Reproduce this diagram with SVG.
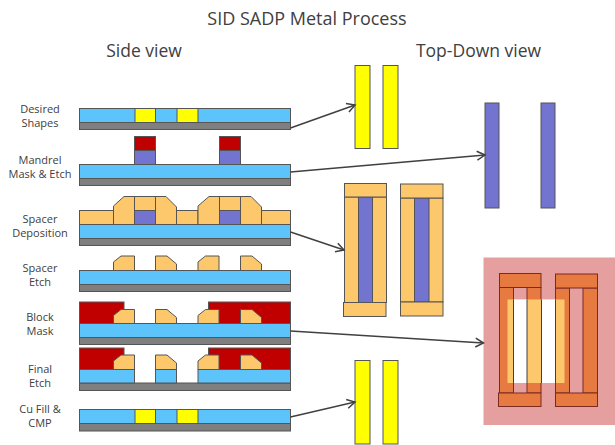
<svg xmlns="http://www.w3.org/2000/svg" width="615" height="445" viewBox="0 0 615 445">
<style>
text{font-family:"Open Sans","DejaVu Sans",sans-serif;fill:#404040;text-anchor:middle}
.t{font-size:18px}.h{font-size:17.5px}.l{font-size:11px}
.s{stroke:#555;stroke-width:1}
.b{fill:#5cc4fb}.g{fill:#7f7f7f}.y{fill:#ffff00}.r{fill:#c00000}.p{fill:#7373d0}.o{fill:#fdc76b}.d{fill:#e67a40;stroke:#7a2a20;stroke-width:1}
.c{fill:none;stroke:#404040;stroke-width:1.5;marker-end:url(#a)}
</style>
<defs>
<marker id="a" markerUnits="userSpaceOnUse" markerWidth="14" markerHeight="14" refX="11" refY="7" orient="auto"><path d="M3 2.5L11 7L3 11.5" fill="none" stroke="#404040" stroke-width="1.5"/></marker>
<polygon id="sl" points="113.5,14.5 113.5,6 121,0 134.5,0 134.5,14.5" class="o s"/>
<polygon id="sr" points="155.5,0 167,0 176.5,8 176.5,14.5 155.5,14.5" class="o s"/>
</defs>
<text class="t" x="307" y="25">SID SADP Metal Process</text>
<text class="h" x="144" y="57">Side view</text>
<text class="h" x="478.5" y="56.5">Top-Down view</text>
<g id="desired">
<text class="l" x="40" y="113">Desired</text><text class="l" x="40" y="127">Shapes</text>
<rect class="b s" x="79.5" y="108.5" width="211" height="14"/><rect class="g s" x="79.5" y="122.5" width="211" height="7"/>
<rect class="y s" x="135" y="108.5" width="20.5" height="14"/><rect class="y s" x="177" y="108.5" width="21" height="14"/>
</g>
<g id="mandrel">
<text class="l" x="40" y="164">Mandrel</text><text class="l" x="40" y="178">Mask &amp; Etch</text>
<rect class="r s" x="134.5" y="136.5" width="21" height="14"/><rect class="p s" x="134.5" y="150.5" width="21" height="14"/>
<rect class="r s" x="219.5" y="136.5" width="21" height="14"/><rect class="p s" x="219.5" y="150.5" width="21" height="14"/>
<rect class="b s" x="79.5" y="164.5" width="211" height="14"/><rect class="g s" x="79.5" y="178.5" width="211" height="7"/>
</g>
<g id="deposition">
<text class="l" x="40" y="223">Spacer</text><text class="l" x="40" y="237">Deposition</text>
<rect class="o s" x="79.5" y="210.5" width="34" height="14"/>
<polygon class="o s" points="113.5,224.5 113.5,206 124,196.5 134.5,196.5 134.5,224.5"/>
<rect class="o s" x="134.5" y="196.5" width="21" height="14"/><rect class="p s" x="134.5" y="210.5" width="21" height="14"/>
<polygon class="o s" points="155.5,196.5 166,196.5 176.5,207 176.5,224.5 155.5,224.5"/>
<rect class="o s" x="176.5" y="210.5" width="21.5" height="14"/>
<polygon class="o s" points="198,224.5 198,206 209,196.5 219.5,196.5 219.5,224.5"/>
<rect class="o s" x="219.5" y="196.5" width="21" height="14"/><rect class="p s" x="219.5" y="210.5" width="21" height="14"/>
<polygon class="o s" points="240.5,196.5 251,196.5 261.5,207 261.5,224.5 240.5,224.5"/>
<rect class="o s" x="261.5" y="210.5" width="29" height="14"/>
<rect class="b s" x="79.5" y="224.5" width="211" height="14"/><rect class="g s" x="79.5" y="238.5" width="211" height="7"/>
</g>
<g id="etch">
<text class="l" x="40" y="272">Spacer</text><text class="l" x="40" y="286">Etch</text>
<use href="#sl" y="256"/><use href="#sr" y="256"/><use href="#sl" x="84.5" y="256"/><use href="#sr" x="85" y="256"/>
<rect class="b s" x="79.5" y="270.5" width="211" height="14"/><rect class="g s" x="79.5" y="284.5" width="211" height="7"/>
</g>
<g id="block">
<text class="l" x="40" y="321">Block</text><text class="l" x="40" y="335">Mask</text>
<rect class="r s" x="79.5" y="302" width="44.5" height="22"/>
<rect class="r s" x="208.5" y="302" width="82" height="22"/>
<path class="s" d="M134.5 323.5H198" fill="none"/>
<use href="#sl" y="309.5"/><use href="#sr" y="309.5"/><use href="#sl" x="84.5" y="309.5"/><use href="#sr" x="85" y="309.5"/>
<rect class="b s" x="79.5" y="323.5" width="211" height="14"/><rect class="g s" x="79.5" y="337.5" width="211" height="7"/>
</g>
<g id="final">
<text class="l" x="40" y="373">Final</text><text class="l" x="40" y="387">Etch</text>
<rect class="r s" x="79.5" y="348" width="44.5" height="22"/>
<rect class="r s" x="208.5" y="348" width="82" height="22"/>
<use href="#sl" y="355"/><use href="#sr" y="355"/><use href="#sl" x="84.5" y="355"/><use href="#sr" x="85" y="355"/>
<rect class="g s" x="79.5" y="383" width="211" height="7.5"/>
<rect class="b s" x="79.5" y="369.5" width="55" height="13.5"/><rect class="b s" x="155.5" y="369.5" width="21" height="13.5"/><rect class="b s" x="198" y="369.5" width="92.5" height="13.5"/>
</g>
<g id="cufill">
<text class="l" x="40" y="413">Cu Fill &amp;</text><text class="l" x="40" y="427">CMP</text>
<rect class="b s" x="79.5" y="409.5" width="211" height="14"/><rect class="g s" x="79.5" y="423.5" width="211" height="7.5"/>
<rect class="y s" x="135" y="409.5" width="20.5" height="14"/><rect class="y s" x="177" y="409.5" width="21" height="14"/>
</g>
<g id="top-yellow">
<rect class="y s" x="355" y="65.5" width="15" height="83"/><rect class="y s" x="383" y="65.5" width="15" height="83"/>
</g>
<g id="top-purple">
<rect class="p s" x="485" y="103" width="14" height="105"/><rect class="p s" x="541" y="103" width="14" height="105"/>
</g>
<g id="top-spacer">
<rect class="o s" x="344.5" y="197" width="42" height="105.5"/><rect class="p s" x="358.5" y="197" width="14" height="105.5"/>
<rect class="o s" x="344.5" y="183.5" width="42" height="13.5"/><rect class="o s" x="343.5" y="302.5" width="42.5" height="14"/>
<rect class="o s" x="400.5" y="198" width="42.5" height="104"/><rect class="p s" x="414.5" y="198" width="14.5" height="104"/>
<rect class="o s" x="400.5" y="184" width="42.5" height="14"/><rect class="o s" x="400.5" y="302" width="42.5" height="14"/>
</g>
<g id="top-block">
<rect x="483.5" y="257.5" width="132" height="167.5" fill="#e69f9f"/>
<path d="M499.5 287H513.5V393H499.5ZM527 287H541V393H527ZM555.5 288H569.5V393H555.5ZM583 288H597.5V393H583Z" class="d"/>
<rect x="507.5" y="299.5" width="57" height="83.5" fill="#fdc76b"/>
<rect x="513.5" y="299.5" width="13.5" height="83.5" fill="#fff"/><rect x="541.5" y="299.5" width="14" height="83.5" fill="#fff"/>
<path d="M513.5 299.5V383M527 299.5V383M541.5 299.5V383M555.5 299.5V383" fill="none" stroke="#404040"/>
<rect class="d" x="499.5" y="273.5" width="41.5" height="14"/><rect class="d" x="555.5" y="274" width="42" height="14"/>
<rect class="d" x="498.5" y="393" width="42.5" height="13.5"/><rect class="d" x="555.5" y="393" width="42" height="13.5"/>
</g>
<g id="top-yellow-2">
<rect class="y s" x="355" y="360.5" width="15" height="83.5"/><rect class="y s" x="383" y="360.5" width="15" height="83.5"/>
</g>
<g id="connectors">
<path class="c" d="M290.5 128L355 105"/>
<path class="c" d="M290.5 172L485 155"/>
<path class="c" d="M290.5 232L344 250"/>
<path class="c" d="M290.5 331L483.5 343"/>
<path class="c" d="M290.5 417L355 402"/>
</g>
</svg>
